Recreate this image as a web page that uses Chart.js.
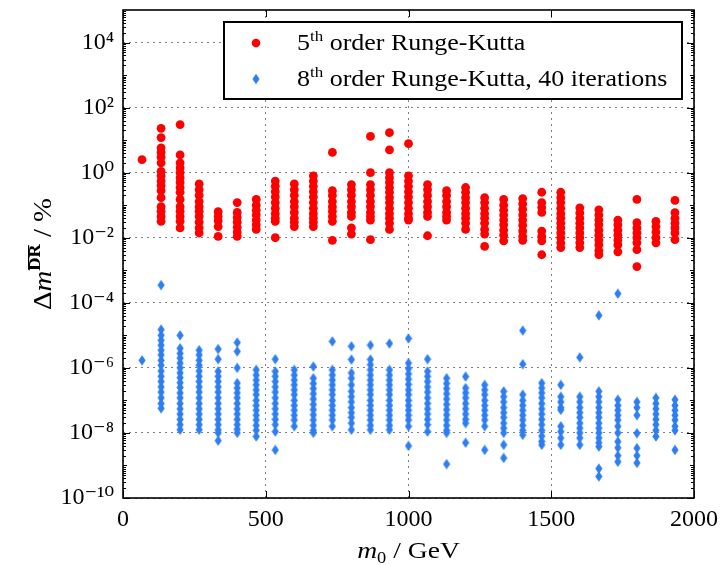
<!DOCTYPE html>
<html lang="en">
<head>
<meta charset="UTF-8" />
<title>Runge-Kutta comparison</title>
<script src="https://cdn.jsdelivr.net/npm/chart.js"></script>
<style>
  body { margin: 0; background: #fff; }
</style>
</head>
<body>
<canvas id="rkChart" width="721" height="565"></canvas>
<script>
// m0 positions of the scan columns (GeV)
const masses = [66.67, 133.33, 200, 266.67, 333.33, 400, 466.67, 533.33, 600, 666.67,
  733.33, 800, 866.67, 933.33, 1000, 1066.67, 1133.33, 1200, 1266.67, 1333.33,
  1400, 1466.67, 1533.33, 1600, 1666.67, 1733.33, 1800, 1866.67, 1933.33];

// 5th order RK, relative deviation in %, one list per column
const rk5Values = [
  [2.5],
  [23, 12, 5.8, 4.2, 3.0, 2.0, 1.1, 0.8, 0.55, 0.4, 0.28, 0.17, 0.09, 0.065, 0.045, 0.032],
  [30, 3.5, 2.0, 1.4, 1.0, 0.7, 0.5, 0.35, 0.25, 0.15, 0.09, 0.065, 0.045, 0.032, 0.02],
  [0.45, 0.3, 0.2, 0.13, 0.09, 0.065, 0.045, 0.03, 0.02, 0.014],
  [0.063, 0.045, 0.033, 0.022, 0.011],
  [0.12, 0.06, 0.042, 0.03, 0.021, 0.015, 0.011],
  [0.15, 0.1, 0.07, 0.05, 0.035, 0.025, 0.018],
  [0.55, 0.38, 0.26, 0.18, 0.12, 0.08, 0.055, 0.04, 0.032, 0.01],
  [0.45, 0.3, 0.2, 0.13, 0.09, 0.06, 0.04, 0.03, 0.022],
  [0.8, 0.55, 0.38, 0.26, 0.18, 0.12, 0.08, 0.055, 0.04, 0.03, 0.022],
  [4.2, 0.28, 0.2, 0.13, 0.09, 0.065, 0.045, 0.032, 0.0083],
  [0.43, 0.3, 0.2, 0.13, 0.09, 0.06, 0.045, 0.02, 0.013],
  [13, 1.0, 0.43, 0.3, 0.2, 0.13, 0.09, 0.06, 0.045, 0.035, 0.0087],
  [17, 5.0, 1.0, 0.7, 0.5, 0.35, 0.25, 0.17, 0.12, 0.08, 0.055, 0.04, 0.028, 0.018],
  [7.8, 0.8, 0.55, 0.38, 0.26, 0.18, 0.12, 0.08, 0.055, 0.04, 0.035],
  [0.43, 0.3, 0.2, 0.13, 0.09, 0.06, 0.045, 0.0115],
  [0.28, 0.2, 0.13, 0.09, 0.06, 0.045, 0.035],
  [0.35, 0.25, 0.17, 0.12, 0.08, 0.055, 0.04, 0.028, 0.018],
  [0.17, 0.12, 0.08, 0.055, 0.04, 0.028, 0.018, 0.013, 0.0054],
  [0.15, 0.1, 0.07, 0.05, 0.035, 0.025, 0.017, 0.012, 0.008],
  [0.16, 0.11, 0.075, 0.05, 0.035, 0.024, 0.016, 0.011, 0.0083],
  [0.25, 0.12, 0.085, 0.06, 0.016, 0.011, 0.008, 0.003],
  [0.25, 0.17, 0.12, 0.08, 0.055, 0.04, 0.028, 0.02, 0.014, 0.01, 0.007, 0.005],
  [0.083, 0.058, 0.04, 0.028, 0.02, 0.014, 0.01, 0.007, 0.005],
  [0.072, 0.05, 0.035, 0.025, 0.017, 0.012, 0.0085, 0.006, 0.004, 0.003],
  [0.035, 0.025, 0.017, 0.012, 0.0085, 0.006, 0.0037],
  [0.15, 0.029, 0.02, 0.014, 0.01, 0.007, 0.0043, 0.0013],
  [0.032, 0.022, 0.015, 0.01, 0.007],
  [0.14, 0.059, 0.04, 0.028, 0.02, 0.014, 0.0087]
];

// 8th order RK with 40 iterations
const rk8Values = [
  [1.7e-6],
  [3.5e-4, 1.5e-5, 1e-5, 7e-6, 5e-6, 3.5e-6, 2.5e-6, 1.7e-6, 1.2e-6, 8e-7, 5.5e-7, 3.8e-7, 2.6e-7, 1.8e-7, 1.2e-7, 8e-8, 5.7e-8],
  [1e-5, 4e-6, 2.8e-6, 2e-6, 1.4e-6, 1e-6, 7e-7, 5e-7, 3.5e-7, 2.5e-7, 1.7e-7, 1.2e-7, 8e-8, 5.5e-8, 3.8e-8, 2.6e-8, 1.8e-8, 1.25e-8],
  [3.5e-6, 2.5e-6, 1.7e-6, 1.2e-6, 8e-7, 5.5e-7, 3.8e-7, 2.6e-7, 1.8e-7, 1.2e-7, 8e-8, 5.5e-8, 3.8e-8, 2.6e-8, 1.8e-8, 1.25e-8],
  [3.8e-6, 1.85e-6, 7.8e-7, 5.5e-7, 3.8e-7, 2.6e-7, 1.8e-7, 1.2e-7, 8e-8, 5.5e-8, 3.8e-8, 2.6e-8, 1.8e-8, 1.25e-8, 1e-8, 5.8e-9],
  [6e-6, 3.2e-6, 1e-6, 3.4e-7, 2.4e-7, 1.7e-7, 1.2e-7, 8e-8, 5.5e-8, 3.8e-8, 2.6e-8, 1.8e-8, 1.3e-8, 1e-8],
  [8.7e-7, 6e-7, 4.2e-7, 3e-7, 2.1e-7, 1.5e-7, 1e-7, 7e-8, 5e-8, 3.5e-8, 2.5e-8, 1.7e-8, 1.2e-8, 7.8e-9],
  [1.85e-6, 7.8e-7, 5.5e-7, 3.8e-7, 2.6e-7, 1.8e-7, 1.2e-7, 8e-8, 5.5e-8, 3.8e-8, 2.6e-8, 1.8e-8, 1.1e-8, 3e-9],
  [8.7e-7, 6e-7, 4.2e-7, 3e-7, 2.1e-7, 1.5e-7, 1e-7, 7e-8, 5e-8, 3.5e-8, 2.5e-8, 1.6e-8],
  [1.1e-6, 4.8e-7, 3.3e-7, 2.3e-7, 1.6e-7, 1.1e-7, 7.5e-8, 5.2e-8, 3.6e-8, 2.5e-8, 1.7e-8, 1.2e-8, 1e-8],
  [6.5e-6, 8.7e-7, 6e-7, 4.2e-7, 3e-7, 2.1e-7, 1.5e-7, 1e-7, 7e-8, 5e-8, 3.5e-8, 2.5e-8, 1.6e-8],
  [4.6e-6, 1.8e-6, 7e-7, 4.8e-7, 3e-7, 1.9e-7, 1.3e-7, 9e-8, 6e-8, 4.2e-8, 3e-8, 2e-8, 1.25e-8],
  [5e-6, 1.8e-6, 1.25e-6, 8.7e-7, 6e-7, 4.2e-7, 3e-7, 2.1e-7, 1.5e-7, 1e-7, 7e-8, 5e-8, 3.5e-8, 2.5e-8, 1.7e-8, 1.25e-8],
  [5.6e-6, 8.7e-7, 6e-7, 4.2e-7, 3e-7, 2.1e-7, 1.5e-7, 1e-7, 7e-8, 5e-8, 3.5e-8, 2.5e-8, 1.7e-8, 1.25e-8],
  [8e-6, 1.4e-6, 9.5e-7, 6.5e-7, 4.5e-7, 3.1e-7, 2.1e-7, 1.5e-7, 1e-7, 7e-8, 5e-8, 3.5e-8, 2.5e-8, 1.6e-8, 4e-9],
  [1.85e-6, 7.8e-7, 5.5e-7, 3.8e-7, 2.6e-7, 1.8e-7, 1.2e-7, 8e-8, 5.5e-8, 3.8e-8, 2.6e-8, 1.8e-8, 1.1e-8],
  [4.8e-7, 3.3e-7, 2.3e-7, 1.6e-7, 1.1e-7, 7.5e-8, 5.2e-8, 3.6e-8, 2.5e-8, 1.7e-8, 1.2e-8, 1e-8, 1.1e-9],
  [5.4e-7, 2.4e-7, 1.7e-7, 1.2e-7, 8e-8, 5.5e-8, 3.8e-8, 2.6e-8, 2e-8, 5e-9],
  [3e-7, 2.1e-7, 1.5e-7, 1e-7, 7e-8, 5e-8, 3.5e-8, 2.5e-8, 1.6e-8, 3e-9],
  [1.9e-7, 1.3e-7, 9e-8, 6e-8, 4.2e-8, 3e-8, 2e-8, 1.4e-8, 1e-8, 4.3e-9, 1.7e-9],
  [1.4e-5, 1.3e-6, 1.5e-7, 1e-7, 7e-8, 5e-8, 3.5e-8, 2.5e-8, 1.7e-8, 1.2e-8, 8.7e-9],
  [3.4e-7, 2.4e-7, 1.7e-7, 1.2e-7, 8e-8, 5.5e-8, 3.8e-8, 2.6e-8, 1.8e-8, 1.2e-8, 8e-9, 5.5e-9, 4.3e-9],
  [3e-7, 1.3e-7, 9e-8, 6e-8, 5.1e-8, 1.6e-8, 1.1e-8, 7e-9, 4.3e-9],
  [2.1e-6, 1.3e-7, 9e-8, 6e-8, 4.2e-8, 3e-8, 2e-8, 1.4e-8, 1e-8, 7e-9, 4.3e-9],
  [4.1e-5, 1.9e-7, 1.3e-7, 9e-8, 6e-8, 4.2e-8, 3e-8, 2e-8, 1.4e-8, 1e-8, 7e-9, 5e-9, 3.8e-9, 8e-10, 4.6e-10],
  [1.9e-4, 1.05e-7, 7e-8, 5e-8, 3.5e-8, 2.5e-8, 1.6e-8, 1e-8, 5.4e-9, 3.5e-9, 2e-9, 1.3e-9],
  [9e-8, 6e-8, 3.5e-8, 9.8e-9, 3.4e-9, 2e-9, 1.2e-9],
  [1.2e-7, 8e-8, 5.5e-8, 3.8e-8, 2.6e-8, 1.8e-8, 1.2e-8, 7.8e-9],
  [1.05e-7, 7e-8, 5e-8, 3.5e-8, 2.5e-8, 1.6e-8, 1.2e-8, 3e-9]
];

const xTickValues = [0, 500, 1000, 1500, 2000];
const yTickValues = [1e-10, 1e-8, 1e-6, 1e-4, 1e-2, 1, 1e2, 1e4];
const yTickLabels = ['10⁻¹⁰', '10⁻⁸', '10⁻⁶', '10⁻⁴', '10⁻²', '10⁰', '10²', '10⁴'];
const seriesLabels = ['5th order Runge-Kutta', '8th order Runge-Kutta, 40 iterations'];

const SERIF = '"Liberation Serif", "DejaVu Serif", serif';
const RED = '#ff0000';
const BLUE = '#2e7ef2';

function toPoints(cols) {
  const pts = [];
  cols.forEach((col, i) => col.forEach(v => pts.push({ x: masses[i], y: v })));
  return pts;
}

// tall diamond marker like matplotlib 'd'
const diamond = document.createElement('canvas');
diamond.width = 8; diamond.height = 11;
(function () {
  const c = diamond.getContext('2d');
  c.fillStyle = BLUE;
  c.beginPath();
  c.moveTo(4, 0.3); c.lineTo(7.6, 5.5); c.lineTo(4, 10.7); c.lineTo(0.4, 5.5);
  c.closePath(); c.fill();
})();

// draw a run of text pieces (sub/superscripts) starting at x
function drawRuns(ctx, runs, x, y, sx) {
  let cx = x;
  runs.forEach(r => {
    ctx.font = r.font;
    const w = ctx.measureText(r.text).width * sx;
    ctx.save();
    ctx.translate(cx, y + (r.dy || 0));
    ctx.scale(sx, 1);
    ctx.fillText(r.text, 0, 0);
    ctx.restore();
    if (r.over) {
      ctx.fillRect(cx + 1, y + r.dy - 12, w - 2, 1.2);
    }
    cx += w;
  });
  return cx - x;
}
function runsWidth(ctx, runs, sx) {
  return runs.reduce((s, r) => { ctx.font = r.font; return s + ctx.measureText(r.text).width * sx; }, 0);
}

const decorations = {
  id: 'decorations',
  afterDraw(chart) {
    const { ctx, chartArea: a, scales: { x, y } } = chart;
    ctx.save();
    ctx.strokeStyle = '#000';
    ctx.fillStyle = '#000';
    // inward ticks
    ctx.lineWidth = 1;
    ctx.beginPath();
    xTickValues.forEach(v => {
      const px = Math.round(x.getPixelForValue(v)) + 0.5;
      ctx.moveTo(px, a.bottom); ctx.lineTo(px, a.bottom - 7);
      ctx.moveTo(px, a.top); ctx.lineTo(px, a.top + 7);
    });
    for (let e = -10; e <= 4; e++) {
      for (let m = 1; m <= 9; m++) {
        const v = m * Math.pow(10, e);
        if (v > 1e5) continue;
        const py = Math.round(y.getPixelForValue(v)) + 0.5;
        const len = (m === 1 && e % 2 === 0) ? 7 : (m === 1 ? 4 : 3);
        ctx.moveTo(a.left, py); ctx.lineTo(a.left + len, py);
        ctx.moveTo(a.right, py); ctx.lineTo(a.right - len, py);
      }
    }
    ctx.stroke();
    // frame
    ctx.lineWidth = 1.6;
    ctx.strokeRect(a.left, a.top, a.right - a.left, a.bottom - a.top);

    // legend box
    ctx.fillStyle = '#fff';
    ctx.fillRect(224, 22, 458, 77);
    ctx.lineWidth = 2;
    ctx.strokeRect(224, 22, 458, 77);
    ctx.fillStyle = RED;
    ctx.beginPath(); ctx.arc(256, 43, 4.3, 0, Math.PI * 2); ctx.fill();
    ctx.drawImage(diamond, 252, 73.5);
    ctx.fillStyle = '#000';
    ctx.textBaseline = 'alphabetic';
    const big = '23px ' + SERIF, small = '15px ' + SERIF;
    drawRuns(ctx, [{ text: '5', font: big }, { text: 'th', font: small, dy: -9 },
      { text: ' order Runge-Kutta', font: big }], 297, 50, 1.13);
    drawRuns(ctx, [{ text: '8', font: big }, { text: 'th', font: small, dy: -9 },
      { text: ' order Runge-Kutta, 40 iterations', font: big }], 297, 86, 1.13);

    // x title
    const xr = [{ text: 'm', font: 'italic 24px ' + SERIF }, { text: '0', font: '16px ' + SERIF, dy: 5 },
      { text: ' / GeV', font: '24px ' + SERIF }];
    const xw = runsWidth(ctx, xr, 1.15);
    drawRuns(ctx, xr, (a.left + a.right) / 2 - xw / 2, 558, 1.15);

    // y title
    const yr = [{ text: 'Δ', font: '25px ' + SERIF }, { text: 'm', font: 'italic 25px ' + SERIF },
      { text: 'DR', font: 'bold 16px ' + SERIF, dy: -11, over: true }, { text: ' / %', font: '25px ' + SERIF }];
    ctx.translate(51, (a.top + a.bottom) / 2);
    ctx.rotate(-Math.PI / 2);
    const yw = runsWidth(ctx, yr, 1.15);
    drawRuns(ctx, yr, -yw / 2, 0, 1.15);
    ctx.restore();
  }
};

new Chart(document.getElementById('rkChart'), {
  type: 'scatter',
  data: {
    datasets: [
      {
        label: seriesLabels[0],
        data: toPoints(rk5Values),
        pointStyle: 'circle',
        pointRadius: 4.4,
        pointBorderWidth: 0,
        backgroundColor: RED,
        borderColor: RED
      },
      {
        label: seriesLabels[1],
        data: toPoints(rk8Values),
        pointStyle: diamond,
        pointRadius: 5,
        backgroundColor: BLUE,
        borderColor: BLUE
      }
    ]
  },
  options: {
    responsive: false,
    animation: false,
    layout: { padding: { top: 10, right: 27, left: 0, bottom: 0 } },
    plugins: { legend: { display: false }, tooltip: { enabled: false } },
    scales: {
      x: {
        type: 'linear',
        min: 0,
        max: 2000,
        afterBuildTicks: s => { s.ticks = xTickValues.map(v => ({ value: v })); },
        afterFit: s => { s.height = 67; s.paddingLeft = 0; s.paddingRight = 0; },
        ticks: {
          color: '#000',
          font: { family: SERIF, size: 24 },
          padding: 7,
          maxRotation: 0,
          callback: v => String(v)
        },
        grid: { color: 'rgba(0,0,0,0.5)', lineWidth: 1, drawTicks: false },
        border: { display: false, dash: [2, 4] }
      },
      y: {
        type: 'logarithmic',
        min: 1e-10,
        max: 1e5,
        afterBuildTicks: s => { s.ticks = yTickValues.map(v => ({ value: v })); },
        afterFit: s => { s.width = 123; s.paddingTop = 0; s.paddingBottom = 0; },
        ticks: {
          color: '#000',
          font: { family: SERIF, size: 24 },
          padding: 9,
          callback: (v, i) => yTickLabels[i]
        },
        grid: { color: 'rgba(0,0,0,0.5)', lineWidth: 1, drawTicks: false },
        border: { display: false, dash: [2, 4] }
      }
    }
  },
  plugins: [decorations]
});
</script>
</body>
</html>
